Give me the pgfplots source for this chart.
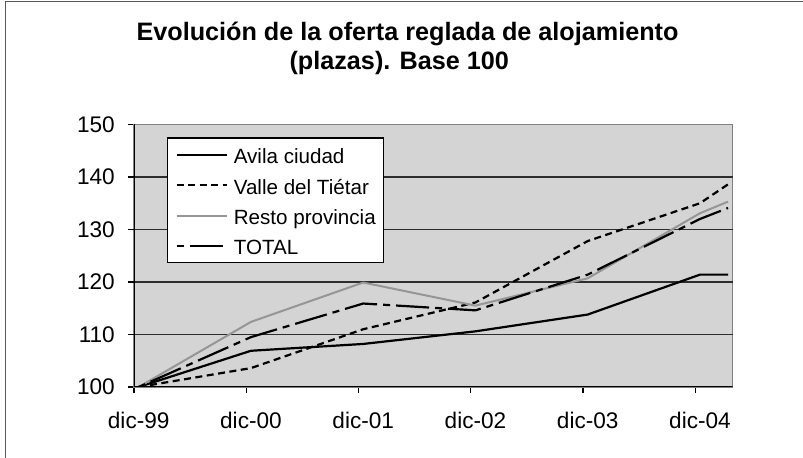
\documentclass[border=0pt]{standalone}
\usepackage{fontspec}
\setmainfont{Liberation Sans}
\usepackage{pgfplots}
\pgfplotsset{compat=1.18}
\definecolor{plotbg}{RGB}{212,212,212}
\definecolor{restogray}{RGB}{150,150,150}
\definecolor{bordergray}{RGB}{128,128,128}
\definecolor{framegray}{RGB}{90,90,90}
\definecolor{gridblack}{RGB}{45,45,45}
\begin{document}
\begin{tikzpicture}
\useasboundingbox (0,0) rectangle (803bp,458bp);
\fill[white] (0,0) rectangle (803bp,458bp);
\draw[framegray, line width=1.5bp] (5.7bp,0) -- (5.7bp,456.3bp) -- (803bp,456.3bp);
\node[anchor=base, inner sep=0pt, font=\fontsize{25.2bp}{30bp}\selectfont\bfseries] at (407.5bp,417.3bp) {Evolución de la oferta reglada de alojamiento};
\node[anchor=base, inner sep=0pt, font=\fontsize{25.2bp}{30bp}\selectfont\bfseries] at (399.3bp,388bp) {(plazas). Base 100};
\begin{axis}[
  at={(134bp,71bp)}, anchor=south west,
  scale only axis, width=598.7bp, height=262.5bp,
  xmin=0, xmax=64, ymin=100, ymax=150,
  xtick={0,12,...,60},
  xticklabels={dic-99,dic-00,dic-01,dic-02,dic-03,dic-04},
  ytick={100,110,...,150},
  extra y ticks={110,120,130,140}, extra y tick labels={},
  extra y tick style={grid=major},
  major grid style={gridblack, line width=1.6bp},
  tick align=outside, major tick length=6bp,
  xtick pos=bottom, ytick pos=left,
  tick style={black, line width=1.4bp},
  axis line style={bordergray, line width=1.4bp},
  axis background/.style={fill=plotbg},
  tick label style={font=\fontsize{22.6bp}{27bp}\selectfont},
  /pgf/number format/assume math mode=true,
  xticklabel style={anchor=base, inner sep=0pt, xshift=4.7bp, yshift=-35.3bp},
  yticklabel style={anchor=east, inner sep=0pt, xshift=-13bp},
  every axis plot/.append style={line join=round},
  legend cell align=left,
  legend image code/.code={\draw[#1] (0bp,0bp) -- (50bp,0bp);},
  legend style={at={(axis description cs:0.0551,0.951)}, anchor=north west,
    draw=black, line width=1.2bp, fill=white,
    inner xsep=8bp, inner ysep=6bp, row sep=8.3bp,
    font=\fontsize{20.6bp}{24bp}\selectfont,
    nodes={inner sep=0pt, text height=20bp, text depth=2bp},
    /tikz/every odd column/.style={column sep=6bp}},
]
\addplot[black, line width=2.2bp] coordinates {(0.5,100) (12.5,106.9) (24.5,108.2) (36.5,110.6) (48.5,113.8) (60.5,121.4) (63.5,121.4)};
\addlegendentry{Avila ciudad}
\addplot[black, line width=2.2bp, dash pattern=on 7bp off 4.5bp] coordinates {(0.5,100) (12.5,103.6) (24.5,111.0) (36.5,116.1) (48.5,127.8) (60.5,135.0) (63.5,138.6)};
\addlegendentry{Valle del Tiétar\hspace{10bp}}
\addplot[restogray, line width=2bp] coordinates {(0.5,100) (12.5,112.4) (24.5,119.9) (36.5,115.5) (48.5,120.7) (60.5,133.1) (63.5,135.3)};
\addlegendentry{Resto provincia}
\addplot[black, line width=2.2bp, dash pattern=on 7bp off 6bp on 33bp off 6bp] coordinates {(0.5,100) (12.5,109.5) (24.5,115.9) (36.5,114.6) (48.5,121.4) (60.5,132.0) (63.5,134.1)};
\addlegendentry{TOTAL}
\draw[black, line width=1.4bp] (rel axis cs:0,1) -- (rel axis cs:0,0) -- (rel axis cs:1,0);
\end{axis}
\end{tikzpicture}
\end{document}
